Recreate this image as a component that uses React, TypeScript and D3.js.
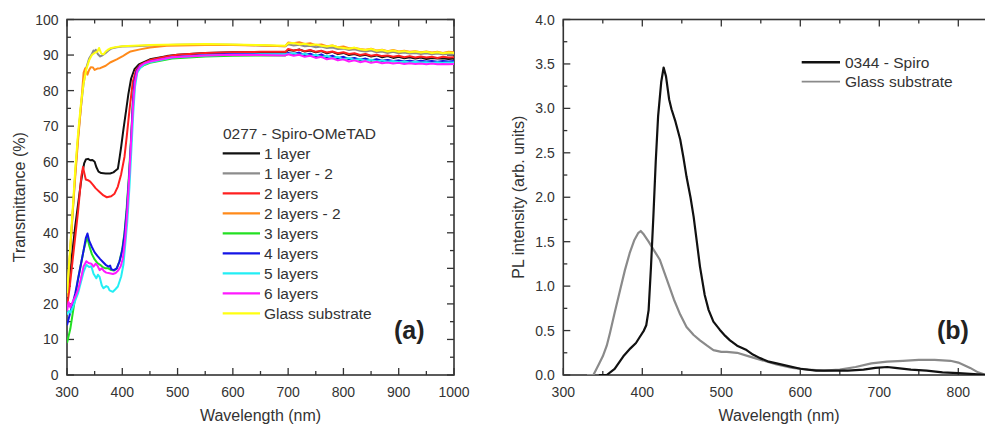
import React from 'react';
import * as d3 from 'd3';

type Pt = [number, number];

const WIDTH = 985;
const HEIGHT = 425;
const FONT = '"Liberation Sans", Arial, Helvetica, sans-serif';
const INK = '#333';

// ---------- Panel (a): transmittance spectra, wavelength (nm) vs T (%) ----------
const tailWavelengths = [700, 710, 720, 730, 740, 750, 760, 770, 780, 790, 800, 810, 820, 830, 840, 850, 860, 870, 880, 890, 900, 910, 920, 930, 940, 950, 960, 970, 980, 990, 1000];

const oneLayerHead: Pt[] = [[300, 21], [305, 28], [310, 35], [315, 42], [320, 48], [325, 54], [328, 57], [331, 59.5], [334, 60.6], [338, 60.8], [342, 60.4], [346, 60.5], [350, 60], [353, 58.5], [357, 57.2], [362, 56.8], [370, 56.7], [378, 56.7], [384, 57], [388, 57.5], [392, 58], [395, 61], [398, 64.2], [402, 69], [407, 74.5], [411, 79], [416, 83.4], [422, 86], [430, 87.4], [450, 88.8], [480, 89.7], [500, 90.1], [550, 90.6], [600, 90.8], [650, 90.8], [695, 90.8]];
const oneLayerTail = [91.4, 91.2, 91.6, 91.0, 91.3, 90.8, 91.1, 90.5, 90.9, 90.3, 90.6, 90.0, 90.3, 89.8, 90.1, 89.6, 89.9, 89.4, 89.7, 89.2, 89.5, 89.1, 89.4, 89.0, 89.3, 88.9, 89.2, 89.0, 89.1, 88.9, 89.0];

const oneLayer2Head: Pt[] = [[300, 22], [305, 33], [310, 45], [315, 57], [320, 67], [325, 75], [330, 82], [335, 86.5], [340, 89], [345, 90.3], [348, 91.3], [350, 90.8], [352, 91.5], [356, 90.2], [360, 89.6], [365, 90.0], [370, 90.6], [375, 91.3], [380, 91.8], [390, 92.2], [400, 92.4], [420, 92.5], [450, 92.7], [500, 92.9], [550, 93.0], [600, 92.9], [650, 92.7], [695, 92.5]];
const oneLayer2Tail = [93.0, 92.7, 92.9, 92.5, 92.6, 92.2, 92.4, 92.0, 92.1, 91.7, 91.8, 91.4, 91.6, 91.2, 91.0, 91.3, 90.8, 91.0, 90.6, 90.9, 90.5, 90.7, 90.4, 90.6, 90.3, 90.5, 90.2, 90.4, 90.2, 90.3, 90.3];

const twoLayersHead: Pt[] = [[300, 19], [305, 25], [310, 32], [315, 39], [320, 46], [323, 51], [326, 56], [329, 58.5], [331, 57], [334, 55], [338, 54.8], [342, 54.4], [347, 53.5], [352, 52.5], [359, 51.5], [366, 50.5], [372, 50], [380, 50.3], [386, 51], [392, 53], [398, 56.5], [404, 61.4], [408, 67], [413, 74.5], [419, 82.5], [425, 85.8], [432, 87.2], [450, 88.6], [480, 89.6], [500, 90.1], [550, 90.6], [600, 90.8], [650, 90.9], [695, 90.9]];
const twoLayersTail = [91.7, 91.3, 91.5, 91.1, 91.4, 90.9, 91.2, 90.7, 91.0, 90.5, 90.8, 90.3, 90.5, 90.0, 90.3, 89.8, 90.1, 89.7, 89.9, 89.5, 89.8, 89.4, 89.7, 89.3, 89.6, 89.3, 89.5, 89.2, 89.5, 89.3, 89.4];

const twoLayers2Head: Pt[] = [[300, 22], [305, 33], [310, 45], [315, 56], [320, 66], [325, 75], [330, 85], [333, 86.3], [337, 84.5], [340, 85.8], [343, 86.6], [347, 86.5], [350, 85.8], [355, 86.2], [360, 86.3], [370, 87.0], [378, 87.9], [390, 88.8], [400, 89.6], [408, 90.4], [415, 91.0], [432, 91.6], [450, 92.1], [480, 92.6], [550, 92.8], [600, 92.8], [650, 92.7], [695, 92.5]];
const twoLayers2Tail = [93.5, 93.3, 93.6, 93.1, 93.3, 92.8, 93.0, 92.5, 92.7, 92.2, 92.4, 91.9, 92.0, 91.7, 91.5, 91.8, 91.3, 91.5, 91.1, 91.4, 91.0, 91.2, 90.9, 91.1, 90.8, 91.0, 90.7, 90.9, 90.6, 90.9, 90.8];

const threeLayersHead: Pt[] = [[300, 9], [303, 11], [306, 13], [310, 17], [315, 22], [320, 27], [325, 31], [330, 35], [334, 37.5], [337, 38.5], [340, 36.5], [345, 34], [350, 32.5], [355, 31.5], [360, 31], [365, 30.3], [370, 30], [375, 30], [380, 29.5], [385, 29.4], [390, 30], [395, 32], [400, 35.5], [404, 40], [408, 47], [412, 56], [416, 67], [419, 76], [422, 82], [426, 85], [431, 86.3], [440, 87.2], [450, 87.8], [490, 89.0], [550, 89.6], [600, 89.8], [650, 89.9], [695, 89.9]];
const threeLayersTail = [90.4, 90.0, 90.3, 89.8, 90.1, 89.6, 89.9, 89.3, 89.6, 89.0, 89.3, 88.8, 89.0, 88.6, 88.9, 88.4, 88.7, 88.3, 88.5, 88.2, 88.4, 88.1, 88.3, 88.0, 88.2, 88.0, 88.1, 87.9, 88.1, 87.9, 88.0];

const fourLayersHead: Pt[] = [[300, 14], [305, 17], [310, 20], [315, 23], [320, 27], [325, 31], [330, 35], [334, 38.5], [337, 39.8], [340, 37.8], [345, 36], [350, 34.5], [355, 33.5], [360, 32.6], [365, 31.8], [370, 31], [375, 30.5], [378, 30.8], [380, 29.8], [385, 29.5], [390, 30], [395, 32], [400, 35], [404, 39.5], [408, 46], [412, 55], [416, 66], [419, 76], [422, 82.5], [426, 85.5], [431, 86.8], [440, 87.6], [450, 88.2], [490, 89.4], [550, 90.0], [600, 90.3], [650, 90.3], [695, 90.2]];
const fourLayersTail = [90.6, 90.3, 90.7, 90.0, 90.4, 89.7, 90.2, 89.4, 89.8, 89.1, 89.5, 88.9, 89.2, 88.7, 89.0, 88.5, 88.8, 88.4, 88.6, 88.3, 88.5, 88.2, 88.4, 88.1, 88.4, 88.2, 88.3, 88.1, 88.3, 88.2, 88.3];

const fiveLayersHead: Pt[] = [[300, 17], [303, 18], [306, 17.5], [311, 19.2], [315, 21], [320, 23], [325, 26], [330, 29], [335, 31], [340, 30.4], [344, 30.6], [348, 28.5], [353, 27.2], [356, 28.2], [359, 27.6], [363, 25.2], [366, 24.4], [371, 25], [374, 24.8], [377, 23.8], [383, 23.4], [388, 24.2], [392, 24.9], [398, 27.7], [402, 31], [405, 36], [409, 43], [413, 53], [417, 65], [420, 74], [423, 81], [427, 85], [432, 86.3], [440, 87.4], [450, 88], [490, 89.3], [550, 89.9], [600, 90.1], [650, 90.2], [695, 90.2]];
const fiveLayersTail = [90.3, 90.5, 90.0, 90.4, 89.7, 90.1, 89.4, 89.8, 89.1, 89.5, 88.8, 89.2, 88.6, 88.9, 88.4, 88.7, 88.2, 88.5, 88.1, 88.3, 88.0, 88.2, 87.9, 88.1, 87.9, 88.0, 87.8, 88.0, 87.8, 87.9, 87.9];

const sixLayersHead: Pt[] = [[300, 18], [303, 20.5], [306, 19], [310, 20.5], [315, 22], [320, 24], [325, 27], [330, 30.5], [335, 32], [339, 31.5], [344, 31.3], [348, 30.5], [352, 31.3], [355, 30.8], [359, 29.5], [363, 30], [367, 29.2], [371, 28.8], [377, 28.6], [383, 28.4], [388, 28.7], [392, 29.3], [397, 30.5], [401, 32.8], [405, 38], [409, 46], [413, 57], [417, 69], [420, 77], [423, 82.5], [427, 85.5], [432, 86.8], [440, 87.7], [450, 88.2], [490, 89.4], [550, 89.9], [600, 90.1], [650, 90.0], [695, 89.9]];
const sixLayersTail = [90.2, 89.8, 90.1, 89.5, 89.8, 89.2, 89.5, 88.8, 89.1, 88.5, 88.8, 88.2, 88.5, 88.0, 88.3, 87.8, 88.1, 87.7, 87.9, 87.6, 87.8, 87.5, 87.7, 87.5, 87.6, 87.4, 87.6, 87.4, 87.5, 87.4, 87.5];

const glassHead: Pt[] = [[300, 23], [305, 34], [310, 46], [315, 58], [320, 68], [325, 76], [330, 82], [335, 86], [340, 88.5], [345, 90], [350, 90.6], [355, 91.0], [358, 92], [362, 90.4], [366, 90.2], [370, 91.0], [375, 91.6], [380, 92.0], [390, 92.3], [400, 92.5], [420, 92.6], [450, 92.8], [500, 93.0], [550, 93.1], [600, 93.0], [650, 92.8], [695, 92.6]];
const glassTail = [93.3, 93.4, 93.0, 93.2, 92.8, 93.0, 92.6, 92.4, 92.7, 92.2, 92.0, 91.8, 92.1, 91.6, 91.4, 91.7, 91.2, 91.4, 91.0, 91.3, 90.9, 91.1, 90.8, 91.0, 90.7, 90.9, 90.6, 90.8, 90.5, 90.7, 90.6];

const transLegendTitle = '0277 - Spiro-OMeTAD';
const transLabels = ['1 layer', '1 layer - 2', '2 layers', '2 layers - 2', '3 layers', '4 layers', '5 layers', '6 layers', 'Glass substrate'];
const transColors = ['#111111', '#8c8c8c', '#ff2020', '#ff8a1a', '#22e022', '#1414e6', '#22eef4', '#ff1aff', '#ffff10'];
const transHeads = [oneLayerHead, oneLayer2Head, twoLayersHead, twoLayers2Head, threeLayersHead, fourLayersHead, fiveLayersHead, sixLayersHead, glassHead];
const transTails = [oneLayerTail, oneLayer2Tail, twoLayersTail, twoLayers2Tail, threeLayersTail, fourLayersTail, fiveLayersTail, sixLayersTail, glassTail];

// ---------- Panel (b): photoluminescence, wavelength (nm) vs intensity ----------
const plSpiro: Pt[] = [[345, 0], [355, 0], [365, 0.07], [376, 0.21], [385, 0.3], [392, 0.36], [397, 0.43], [402, 0.5], [405, 0.56], [408, 0.73], [411, 1.22], [414, 1.78], [417, 2.4], [420, 2.91], [424, 3.3], [427, 3.46], [430, 3.36], [434, 3.1], [437, 2.99], [442, 2.85], [448, 2.65], [452, 2.45], [456, 2.23], [461, 2.0], [465, 1.78], [469, 1.5], [473, 1.22], [479, 0.9], [484, 0.73], [490, 0.6], [498, 0.51], [505, 0.44], [511, 0.39], [520, 0.33], [532, 0.28], [540, 0.23], [549, 0.19], [560, 0.15], [570, 0.13], [585, 0.1], [600, 0.07], [620, 0.05], [640, 0.05], [660, 0.05], [680, 0.06], [695, 0.08], [710, 0.09], [720, 0.08], [740, 0.06], [760, 0.05], [780, 0.03], [800, 0.02], [820, 0.01], [835, 0]];
const plGlass: Pt[] = [[330, 0], [338, 0], [341, 0.05], [345, 0.12], [350, 0.21], [355, 0.33], [359, 0.47], [365, 0.7], [372, 0.96], [378, 1.18], [384, 1.37], [390, 1.52], [395, 1.6], [398, 1.62], [402, 1.58], [408, 1.5], [415, 1.4], [422, 1.3], [430, 1.1], [440, 0.85], [448, 0.68], [456, 0.54], [465, 0.45], [473, 0.39], [482, 0.33], [490, 0.28], [500, 0.26], [507, 0.26], [520, 0.25], [535, 0.21], [550, 0.17], [570, 0.12], [590, 0.08], [610, 0.06], [630, 0.05], [650, 0.06], [670, 0.09], [690, 0.13], [710, 0.15], [730, 0.16], [750, 0.17], [770, 0.17], [790, 0.16], [800, 0.14], [815, 0.08], [825, 0.03], [835, 0]];

const plLabels = ['0344 - Spiro', 'Glass substrate'];
const plColors = ['#111111', '#8a8a8a'];
const plSeries = [plSpiro, plGlass];

// ---------- layout ----------
const A = { left: 67, right: 454, top: 19.5, bottom: 375 };
const B = { left: 563.3, right: 997.8, top: 19.5, bottom: 375 };

const xA = d3.scaleLinear().domain([300, 1000]).range([A.left, A.right]);
const yA = d3.scaleLinear().domain([0, 100]).range([A.bottom, A.top]);
const xB = d3.scaleLinear().domain([300, 850]).range([B.left, B.right]);
const yB = d3.scaleLinear().domain([0, 4]).range([B.bottom, B.top]);

const MAJOR = 7;
const MINOR = 4;

function Frame({ box, x, y, xMajor, xMinor, yMajor, yMinor, yFmt, clipId }: any) {
  const lines: any[] = [];
  xMajor.forEach((v: number) => {
    const px = x(v);
    lines.push(<line key={'xb' + v} x1={px} x2={px} y1={box.bottom} y2={box.bottom - MAJOR} />);
    lines.push(<line key={'xt' + v} x1={px} x2={px} y1={box.top} y2={box.top + MAJOR} />);
  });
  xMinor.forEach((v: number) => {
    const px = x(v);
    lines.push(<line key={'xbm' + v} x1={px} x2={px} y1={box.bottom} y2={box.bottom - MINOR} />);
    lines.push(<line key={'xtm' + v} x1={px} x2={px} y1={box.top} y2={box.top + MINOR} />);
  });
  yMajor.forEach((v: number) => {
    const py = y(v);
    lines.push(<line key={'yl' + v} x1={box.left} x2={box.left + MAJOR} y1={py} y2={py} />);
    lines.push(<line key={'yr' + v} x1={box.right} x2={box.right - MAJOR} y1={py} y2={py} />);
  });
  yMinor.forEach((v: number) => {
    const py = y(v);
    lines.push(<line key={'ylm' + v} x1={box.left} x2={box.left + MINOR} y1={py} y2={py} />);
    lines.push(<line key={'yrm' + v} x1={box.right} x2={box.right - MINOR} y1={py} y2={py} />);
  });
  return (
    <g>
      <clipPath id={clipId}>
        <rect x={box.left} y={box.top} width={box.right - box.left} height={box.bottom - box.top} />
      </clipPath>
      <g stroke={INK} strokeWidth={1.3}>{lines}</g>
      <rect x={box.left} y={box.top} width={box.right - box.left} height={box.bottom - box.top} fill="none" stroke={INK} strokeWidth={1.6} />
      <g fontFamily={FONT} fontSize={14} fill={INK}>
        {xMajor.map((v: number) => (
          <text key={'xl' + v} x={x(v)} y={397} textAnchor="middle">{v}</text>
        ))}
        {yMajor.map((v: number) => (
          <text key={'ylb' + v} x={box.left - 8.5} y={y(v)} dy="0.36em" textAnchor="end">{yFmt(v)}</text>
        ))}
      </g>
    </g>
  );
}

export default function App() {
  const lineA = d3.line<Pt>().x((d) => xA(d[0])).y((d) => yA(d[1]));
  const lineB = d3.line<Pt>().x((d) => xB(d[0])).y((d) => yB(d[1]));

  const transSeries: Pt[][] = transHeads.map((head, i) =>
    head.concat(tailWavelengths.map((w, j) => [w, transTails[i][j]] as Pt))
  );

  const xMajorA = d3.range(300, 1001, 100);
  const xMinorA = d3.range(350, 1000, 100);
  const yMajorA = d3.range(0, 101, 10);
  const yMinorA = d3.range(5, 100, 10);

  const xMajorB = d3.range(300, 801, 100);
  const xMinorB = d3.range(350, 851, 100);
  const yMajorB = d3.range(0, 9).map((i) => i * 0.5);
  const yMinorB = d3.range(0, 8).map((i) => i * 0.5 + 0.25);

  const legendA = { x1: 222.7, x2: 260, tx: 264, y0: 153.3, dy: 20 };
  const legendB = { x1: 801.7, x2: 840, tx: 845, y0: 62.3, dy: 19.4 };

  return (
    <svg width={WIDTH} height={HEIGHT} style={{ position: 'absolute', left: 0, top: 0, background: '#fff' }}>
      <rect x={0} y={0} width={WIDTH} height={HEIGHT} fill="#fff" />

      {/* panel (a) */}
      <Frame box={A} x={xA} y={yA} xMajor={xMajorA} xMinor={xMinorA} yMajor={yMajorA} yMinor={yMinorA} yFmt={(v: number) => String(v)} clipId="clipA" />
      <g clipPath="url(#clipA)" fill="none" strokeWidth={2} strokeLinejoin="round">
        {transSeries.map((s, i) => (
          <path key={transLabels[i]} d={lineA(s) || ''} stroke={transColors[i]} />
        ))}
      </g>
      <g fontFamily={FONT} fontSize={15.5} fill={INK}>
        <text x={223} y={139}>{transLegendTitle}</text>
        {transLabels.map((lab, i) => {
          const yy = legendA.y0 + i * legendA.dy;
          return (
            <g key={lab}>
              <line x1={legendA.x1} x2={legendA.x2} y1={yy} y2={yy} stroke={transColors[i]} strokeWidth={2.2} />
              <text x={legendA.tx} y={yy + 5.2}>{lab}</text>
            </g>
          );
        })}
      </g>
      <text x={394} y={338.5} fontFamily={FONT} fontSize={25} fontWeight="bold" fill="#222">(a)</text>
      <text x={(A.left + A.right) / 2} y={421} textAnchor="middle" fontFamily={FONT} fontSize={16} fill={INK}>Wavelength (nm)</text>
      <text transform={`translate(24.5, ${(A.top + A.bottom) / 2}) rotate(-90)`} textAnchor="middle" fontFamily={FONT} fontSize={16} fill={INK}>Transmittance (%)</text>

      {/* panel (b) */}
      <Frame box={B} x={xB} y={yB} xMajor={xMajorB} xMinor={xMinorB} yMajor={yMajorB} yMinor={yMinorB} yFmt={d3.format('.1f')} clipId="clipB" />
      <g clipPath="url(#clipB)" fill="none" strokeWidth={2.2} strokeLinejoin="round">
        {[1, 0].map((i) => (
          <path key={plLabels[i]} d={lineB(plSeries[i]) || ''} stroke={plColors[i]} />
        ))}
      </g>
      <g fontFamily={FONT} fontSize={15.5} fill={INK}>
        {plLabels.map((lab, i) => {
          const yy = legendB.y0 + i * legendB.dy;
          return (
            <g key={lab}>
              <line x1={legendB.x1} x2={legendB.x2} y1={yy} y2={yy} stroke={plColors[i]} strokeWidth={i === 0 ? 2.6 : 1.8} />
              <text x={legendB.tx} y={yy + 5.2}>{lab}</text>
            </g>
          );
        })}
      </g>
      <text x={937} y={338.5} fontFamily={FONT} fontSize={25} fontWeight="bold" fill="#222">(b)</text>
      <text x={779} y={421} textAnchor="middle" fontFamily={FONT} fontSize={16} fill={INK}>Wavelength (nm)</text>
      <text transform={`translate(523.5, ${(B.top + B.bottom) / 2}) rotate(-90)`} textAnchor="middle" fontFamily={FONT} fontSize={16} fill={INK}>PL intensity (arb. units)</text>
    </svg>
  );
}
